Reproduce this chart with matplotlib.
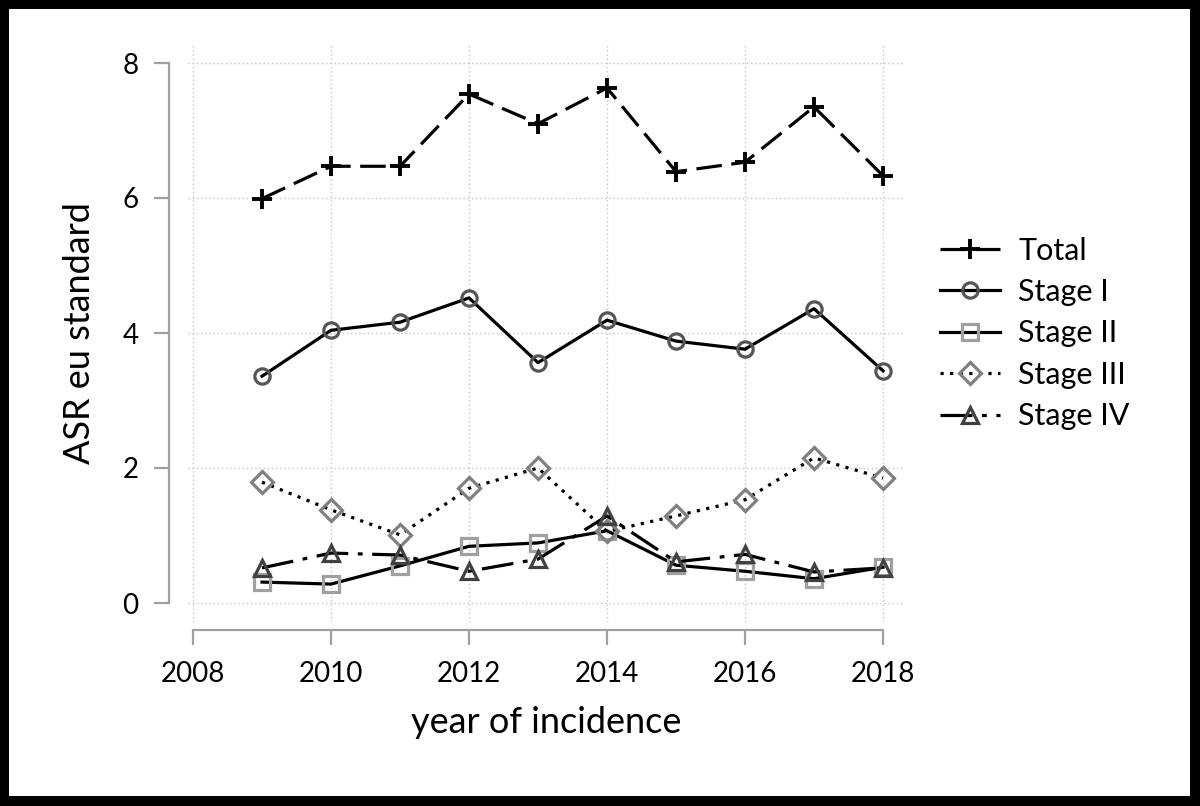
import numpy as np
import matplotlib
matplotlib.use("Agg")
import matplotlib.pyplot as plt
from matplotlib.patches import Rectangle

plt.rcParams['font.family'] = ['Lato', 'DejaVu Sans']

years = [2009, 2010, 2011, 2012, 2013, 2014, 2015, 2016, 2017, 2018]
total = [5.99, 6.47, 6.47, 7.54, 7.10, 7.63, 6.39, 6.53, 7.35, 6.33]
stage1 = [3.36, 4.04, 4.16, 4.52, 3.56, 4.19, 3.88, 3.76, 4.36, 3.44]
stage2 = [0.31, 0.28, 0.55, 0.84, 0.89, 1.07, 0.56, 0.47, 0.36, 0.53]
stage3 = [1.79, 1.38, 1.01, 1.70, 2.00, 1.06, 1.29, 1.53, 2.15, 1.85]
stage4 = [0.52, 0.74, 0.71, 0.47, 0.65, 1.29, 0.61, 0.72, 0.46, 0.52]

xticks = [2008, 2010, 2012, 2014, 2016, 2018]
yticks = [0, 2, 4, 6, 8]

fig = plt.figure(figsize=(12, 8.06), dpi=100)
fig.patch.set_facecolor('black')
# white page inside the black frame
fig.patches.append(Rectangle((9/1200, 10/806), 1 - 19/1200, 1 - 19/806,
                             transform=fig.transFigure, facecolor='white',
                             edgecolor='none', zorder=-10))

ax = fig.add_axes([188/1200, 1 - 622/806, 717/1200, 577/806])
ax.set_facecolor('none')

lw = 2.3
ms = 11
mew = 2.3
ax.plot(years, total, color='black', lw=lw, dashes=(8, 3), marker='+',
        ms=14, mew=2.8, mec='black', label='Total', zorder=5)
ax.plot(years, stage1, color='black', lw=lw, ls='-', marker='o', ms=ms,
        mew=mew, mec='#555555', mfc='none', label='Stage I', zorder=5)
ax.plot(years, stage2, color='black', lw=lw, ls='-', marker='s', ms=ms,
        mew=mew, mec='#a0a0a0', mfc='none', label='Stage II', zorder=4)
ax.plot(years, stage3, color='black', lw=lw, dashes=(1, 2), marker='D', ms=ms,
        mew=mew, mec='#808080', mfc='none', label='Stage III', zorder=4)
ax.plot(years, stage4, color='black', lw=lw, dashes=(10, 3, 1.5, 3), marker='^',
        ms=ms + 1, mew=mew, mec='#404040', mfc='none', label='Stage IV', zorder=4)

ax.set_xlim(2008 - 5/69, 2018 + 22/69)
ax.set_ylim(-19/67.5, 8 + 18/67.5)
ax.set_xticks(xticks)
ax.set_yticks(yticks)
ax.grid(True, color='#c4c4c4', ls=(0, (1, 2)), lw=1.0)

for s in ['top', 'right']:
    ax.spines[s].set_visible(False)
ax.spines['left'].set_position(('outward', 13.5))
ax.spines['left'].set_bounds(0, 8)
ax.spines['bottom'].set_position(('outward', 6))
ax.spines['bottom'].set_bounds(2008, 2018)
for s in ['left', 'bottom']:
    ax.spines[s].set_color('#a0a0a0')
    ax.spines[s].set_linewidth(1.6)
ax.tick_params(axis='both', length=11, width=1.6, color='#a0a0a0',
               labelsize=20)
ax.tick_params(axis='x', pad=11)
ax.tick_params(axis='y', pad=11)

ax.set_xlabel('year of incidence', fontsize=26, labelpad=14)
ax.set_ylabel('ASR eu standard', fontsize=26, labelpad=19)

ax.legend(loc='center left', frameon=False,
          fontsize=22, handlelength=1.95, handletextpad=0.6, labelspacing=0.44,
          borderaxespad=0)
leg = ax.get_legend()
leg.set_bbox_to_anchor((1 + 0.032, 0.5), transform=ax.transAxes)

fig.savefig('out.png', dpi=100, facecolor=fig.get_facecolor())
